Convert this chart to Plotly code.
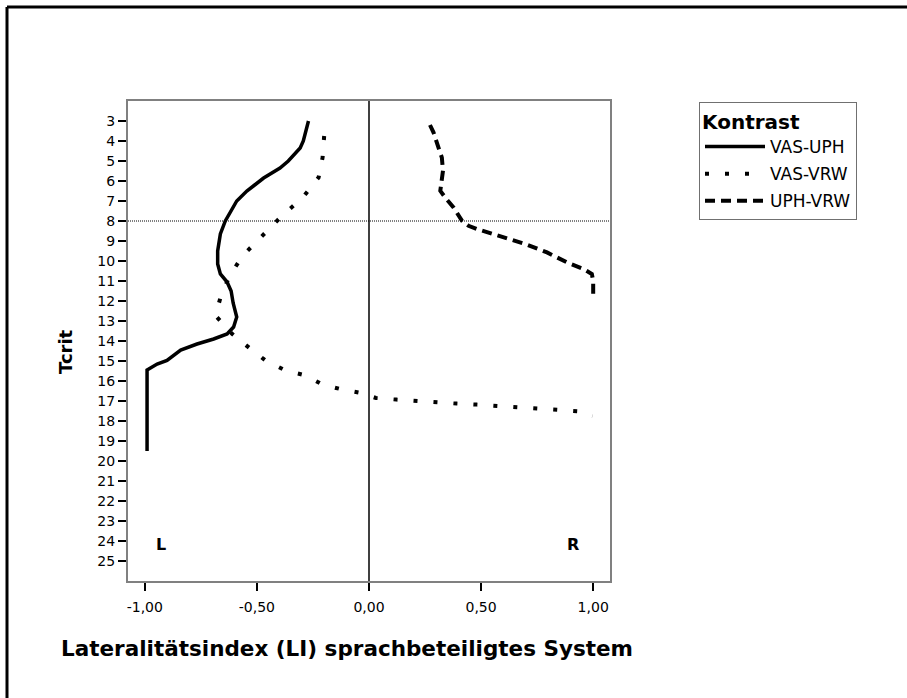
import plotly.graph_objects as go

# ---- data ----
vas_uph_y = [3.0, 3.5, 4.0, 4.35, 4.7, 5.0, 5.35, 5.85, 6.2, 6.5, 7.0, 7.65, 8.0, 8.65, 9.5,
             10.15, 10.65, 11.05, 11.5, 12.1, 12.8, 13.3, 13.65, 13.9, 14.15, 14.45, 14.75,
             14.97, 15.15, 15.45, 19.5]
vas_uph_x = [-0.27, -0.28, -0.293, -0.307, -0.338, -0.36, -0.397, -0.47, -0.51, -0.545, -0.59,
             -0.626, -0.641, -0.663, -0.675, -0.675, -0.663, -0.633, -0.615, -0.606, -0.59,
             -0.604, -0.633, -0.693, -0.767, -0.84, -0.875, -0.901, -0.945, -0.99, -0.99]

vas_vrw_y = [3.75, 4.83, 5.83, 6.3, 6.83, 7.74, 8.74, 9.73, 10.73, 11.73, 12.73, 13.64, 14.39,
             14.97, 15.47, 15.72, 16.18, 16.43, 16.6, 16.85, 16.93, 17.01, 17.1, 17.13, 17.18,
             17.24, 17.28, 17.35, 17.43, 17.51, 17.76]
vas_vrw_x = [-0.2, -0.207, -0.225, -0.26, -0.296, -0.388, -0.477, -0.563, -0.621, -0.66, -0.685,
             -0.611, -0.529, -0.462, -0.373, -0.284, -0.207, -0.118, -0.036, 0.031, 0.122, 0.214,
             0.303, 0.392, 0.481, 0.571, 0.66, 0.749, 0.841, 0.93, 0.997]

uph_vrw_y = [3.2, 3.58, 4.33, 4.83, 5.49, 6.16, 6.49, 6.83, 7.32, 7.99, 8.24, 8.4, 8.62, 8.9,
             9.18, 9.57, 10.07, 10.4, 10.65, 11.0, 11.65]
uph_vrw_x = [0.272, 0.288, 0.31, 0.325, 0.33, 0.321, 0.318, 0.34, 0.377, 0.415, 0.444, 0.481,
             0.541, 0.615, 0.704, 0.794, 0.883, 0.957, 0.994, 1.0, 1.0]

x_tick_vals = [-1.0, -0.5, 0.0, 0.5, 1.0]
x_tick_text = ["-1,00", "-0,50", "0,00", "0,50", "1,00"]
y_tick_vals = list(range(3, 26))
y_tick_text = [str(v) for v in y_tick_vals]

series_names = ["VAS-UPH", "VAS-VRW", "UPH-VRW"]
legend_title = "Kontrast"
x_title = "Lateralitätsindex (LI) sprachbeteiligtes System"
y_title = "Tcrit"
ref_y = 8

FONT = "DejaVu Sans"

fig = go.Figure()
fig.add_trace(go.Scatter(x=vas_uph_x, y=vas_uph_y, mode="lines", name=series_names[0],
                         legendgroup="a", line=dict(color="black", width=3.5)))
fig.add_trace(go.Scatter(x=vas_vrw_x, y=vas_vrw_y, mode="lines", name=series_names[1],
                         legendgroup="b", line=dict(color="black", width=4, dash="4px,16px")))
fig.add_trace(go.Scatter(x=uph_vrw_x, y=uph_vrw_y, mode="lines", name=series_names[2],
                         legendgroup="c", line=dict(color="black", width=4, dash="10px,6px")))

L, R, T, B = 128, 297, 101, 117
W = 907 - L - R
H = 698 - T - B

def px(xp):
    return (xp - L) / W

def py(yp):
    return (698 - B - yp) / H

fig.update_layout(
    width=907, height=698,
    margin=dict(l=L, r=R, t=T, b=B),
    paper_bgcolor="white", plot_bgcolor="white",
    font=dict(family=FONT, color="black", size=13),
    showlegend=True,
    legend=dict(
        x=px(699), y=py(102), xanchor="left", yanchor="top",
        bordercolor="#707070", borderwidth=1,
        title=dict(text="<b>" + legend_title + "</b>", font=dict(family=FONT, size=20)),
        font=dict(family=FONT, size=17),
        bgcolor="white", tracegroupgap=2, itemwidth=60,
    ),
    xaxis=dict(
        range=[-1.075, 1.075], tickvals=x_tick_vals, ticktext=x_tick_text,
        showgrid=False, zeroline=False, showline=True, linecolor="#808080", linewidth=2,
        mirror=True, ticks="outside", ticklen=8, tickwidth=2, tickcolor="black",
        tickfont=dict(family=FONT, size=14), ticklabelstandoff=4,
    ),
    yaxis=dict(
        range=[26, 2], tickvals=y_tick_vals, ticktext=y_tick_text,
        showgrid=False, zeroline=False, showline=True, linecolor="#808080", linewidth=2,
        mirror=True, ticks="outside", ticklen=8, tickwidth=2, tickcolor="black",
        tickfont=dict(family=FONT, size=14),
    ),
    shapes=[
        dict(type="line", xref="paper", yref="y", x0=0, x1=1, y0=ref_y, y1=ref_y,
             line=dict(color="black", width=1, dash="1px,1px")),
        dict(type="line", xref="x", yref="paper", x0=0, x1=0, y0=0, y1=1,
             line=dict(color="black", width=1.5)),
        dict(type="line", xref="paper", yref="paper", x0=px(7), x1=px(907), y0=py(7), y1=py(7),
             line=dict(color="black", width=3)),
        dict(type="line", xref="paper", yref="paper", x0=px(7), x1=px(7), y0=py(7), y1=py(698),
             line=dict(color="black", width=3)),
    ],
    annotations=[
        dict(text="<b>" + x_title + "</b>", xref="paper", yref="paper", x=px(347), y=py(648),
             showarrow=False, font=dict(family=FONT, size=21.5), xanchor="center", yanchor="middle"),
        dict(text="<b>" + y_title + "</b>", xref="paper", yref="paper", x=px(65), y=py(352),
             showarrow=False, textangle=-90, font=dict(family=FONT, size=18),
             xanchor="center", yanchor="middle"),
        dict(text="<b>L</b>", xref="x", yref="y", x=-0.93, y=24.15, showarrow=False,
             font=dict(family=FONT, size=16)),
        dict(text="<b>R</b>", xref="x", yref="y", x=0.91, y=24.15, showarrow=False,
             font=dict(family=FONT, size=16)),
    ],
)

fig.write_html("out.html")
